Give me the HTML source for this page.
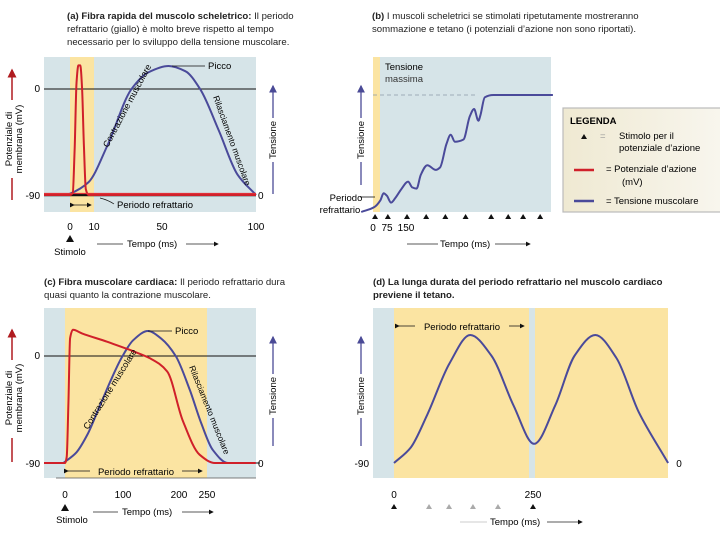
<!DOCTYPE html>
<html><head><meta charset="utf-8"><style>
html,body{margin:0;padding:0;background:#fff}
svg{display:block;font-family:"Liberation Sans",sans-serif}
</style></head><body>
<svg id="fig" width="720" height="540" viewBox="0 0 720 540">
<defs>
<marker id="ab" markerWidth="6" markerHeight="6" refX="5" refY="3" orient="auto"><path d="M0,0 L6,3 L0,6 z" fill="#111"/></marker>
<marker id="ar" markerWidth="6" markerHeight="6" refX="5" refY="3" orient="auto"><path d="M0,0 L6,3 L0,6 z" fill="#b01c20"/></marker>
<marker id="au" markerWidth="6" markerHeight="6" refX="5" refY="3" orient="auto"><path d="M0,0 L6,3 L0,6 z" fill="#4a4a96"/></marker>
<linearGradient id="lg" x1="0" x2="1"><stop offset="0" stop-color="#efe9d2"/><stop offset="1" stop-color="#f8f6ee"/></linearGradient>
</defs>

<g font-size="9.6" fill="#222">
<text x="67" y="19"><tspan font-weight="bold">(a) Fibra rapida del muscolo scheletrico:</tspan> Il periodo</text>
<text x="67" y="32">refrattario (giallo) è molto breve rispetto al tempo</text>
<text x="67" y="45">necessario per lo sviluppo della tensione muscolare.</text>
<text x="372" y="19"><tspan font-weight="bold">(b)</tspan> I muscoli scheletrici se stimolati ripetutamente mostreranno</text>
<text x="372" y="32">sommazione e tetano (i potenziali d’azione non sono riportati).</text>
<text x="44" y="285"><tspan font-weight="bold">(c) Fibra muscolare cardiaca:</tspan> Il periodo refrattario dura</text>
<text x="44" y="298">quasi quanto la contrazione muscolare.</text>
<text x="373" y="285" font-weight="bold">(d) La lunga durata del periodo refrattario nel muscolo cardiaco</text>
<text x="373" y="298" font-weight="bold">previene il tetano.</text>
</g>

<g>
<rect x="44" y="57" width="212" height="155" fill="#d6e4e8"/>
<rect x="70" y="57" width="24" height="155" fill="#fbe4a2"/>
<line x1="44" y1="89" x2="256" y2="89" stroke="#111" stroke-width="1"/>
<line x1="44" y1="195" x2="256" y2="195" stroke="#111" stroke-width="2.5"/>
<path id="blueA" fill="none" stroke="#4a4a9a" stroke-width="2"/>
<path id="redA" fill="none" stroke="#d0202a" stroke-width="2"/>
<line x1="44" y1="193.5" x2="256" y2="193.5" stroke="#e03038" stroke-width="1.2"/>
<text x="40" y="92" font-size="10" text-anchor="end">0</text>
<text x="40" y="199" font-size="10" text-anchor="end">-90</text>
<text x="258" y="199" font-size="10">0</text>
<text x="70" y="230" font-size="10" text-anchor="middle">0</text>
<text x="94" y="230" font-size="10" text-anchor="middle">10</text>
<text x="162" y="230" font-size="10" text-anchor="middle">50</text>
<text x="256" y="230" font-size="10" text-anchor="middle">100</text>
<path d="M66,242 L70,235 L74,242 z" fill="#111"/>
<text x="70" y="255" font-size="9.5" text-anchor="middle">Stimolo</text>
<line x1="97" y1="244" x2="123" y2="244" stroke="#222" stroke-width="0.8"/>
<text x="127" y="247" font-size="9.5">Tempo (ms)</text>
<line x1="186" y1="244" x2="218" y2="244" stroke="#222" stroke-width="0.8" marker-end="url(#ab)"/>
<line x1="172" y1="66" x2="205" y2="66" stroke="#111" stroke-width="0.8"/>
<text x="208" y="69" font-size="9.5">Picco</text>
<line x1="74" y1="205" x2="91" y2="205" stroke="#111" stroke-width="0.8" marker-end="url(#ab)" marker-start="url(#ab)"/>
<path d="M100,198 Q108,200 114,204" fill="none" stroke="#111" stroke-width="0.7"/>
<text x="117" y="208" font-size="9.5">Periodo refrattario</text>
<text transform="translate(108,148) rotate(-62)" font-size="9">Contrazione muscolare</text>
<text transform="translate(213,97) rotate(70)" font-size="8.5">Rilasciamento muscolare</text>
<line x1="12" y1="200" x2="12" y2="70" stroke="#b01c20" stroke-width="1.5" marker-end="url(#ar)"/>
<rect x="6" y="100" width="18" height="78" fill="#fff"/>
<text transform="translate(12,139) rotate(-90)" font-size="9.5" text-anchor="middle">Potenziale di</text>
<text transform="translate(22,139) rotate(-90)" font-size="9.5" text-anchor="middle">membrana (mV)</text>
<line x1="273" y1="194" x2="273" y2="86" stroke="#4a4a96" stroke-width="1.3" marker-end="url(#au)"/>
<rect x="267" y="118" width="12" height="44" fill="#fff"/>
<text transform="translate(276,140) rotate(-90)" font-size="9.5" text-anchor="middle">Tensione</text>
</g>

<g>
<rect x="373" y="57" width="178" height="155" fill="#d6e4e8"/>
<rect x="373" y="57" width="7" height="155" fill="#fbe4a2"/>
<line x1="373" y1="95" x2="476" y2="95" stroke="#8a99a8" stroke-width="0.8" stroke-dasharray="4,3"/>
<text x="385" y="70" font-size="9.5">Tensione</text>
<text x="385" y="82" font-size="9.5" fill="#333">massima</text>
<path id="blueB" fill="none" stroke="#4a4a9a" stroke-width="2"/>
<g id="stimB"></g>
<text x="373" y="231" font-size="10" text-anchor="middle">0</text>
<text x="387" y="231" font-size="10" text-anchor="middle">75</text>
<text x="406" y="231" font-size="10" text-anchor="middle">150</text>
<line x1="407" y1="244" x2="438" y2="244" stroke="#222" stroke-width="0.8"/>
<text x="440" y="247" font-size="9.5">Tempo (ms)</text>
<line x1="495" y1="244" x2="530" y2="244" stroke="#222" stroke-width="0.8" marker-end="url(#ab)"/>
<text x="346" y="201" font-size="9.5" text-anchor="middle">Periodo</text>
<text x="340" y="213" font-size="9.5" text-anchor="middle">refrattario</text>
<line x1="360" y1="197" x2="375" y2="197" stroke="#111" stroke-width="0.8"/>
<line x1="361" y1="185" x2="361" y2="86" stroke="#4a4a96" stroke-width="1.3" marker-end="url(#au)"/>
<rect x="355" y="118" width="12" height="44" fill="#fff"/>
<text transform="translate(364,140) rotate(-90)" font-size="9.5" text-anchor="middle">Tensione</text>
</g>

<g>
<rect x="563" y="108" width="160" height="104" fill="url(#lg)" stroke="#bbb" stroke-width="1.2"/>
<text x="570" y="124" font-size="9.5" font-weight="bold">LEGENDA</text>
<path d="M581,139 L584,134 L587,139 z" fill="#111"/>
<text x="600" y="139" font-size="9.5" fill="#999">=</text>
<text x="619" y="139" font-size="9.5">Stimolo per il</text>
<text x="619" y="151" font-size="9.5">potenziale d’azione</text>
<line x1="574" y1="170" x2="594" y2="170" stroke="#d0202a" stroke-width="2.5"/>
<text x="606" y="172" font-size="9.5">= Potenziale d’azione</text>
<text x="622" y="185" font-size="9.5">(mV)</text>
<line x1="574" y1="201" x2="594" y2="201" stroke="#4a4a9a" stroke-width="2.5"/>
<text x="606" y="204" font-size="9.5">= Tensione muscolare</text>
</g>

<g>
<rect x="44" y="308" width="212" height="170" fill="#d6e4e8"/>
<rect x="65" y="308" width="142" height="170" fill="#fbe4a2"/>
<line x1="44" y1="356" x2="256" y2="356" stroke="#111" stroke-width="1"/>
<line x1="56" y1="478" x2="256" y2="478" stroke="#555" stroke-width="0.8"/>
<path id="blueC" fill="none" stroke="#4a4a9a" stroke-width="2"/>
<path id="redC" fill="none" stroke="#d0202a" stroke-width="2"/>
<line x1="68" y1="471" x2="202" y2="471" stroke="#111" stroke-width="0.8" marker-end="url(#ab)" marker-start="url(#ab)"/>
<rect x="90" y="464" width="92" height="13" fill="#fbe4a2"/>
<text x="136" y="475" font-size="9.5" text-anchor="middle">Periodo refrattario</text>
<line x1="148" y1="331" x2="172" y2="331" stroke="#111" stroke-width="0.8"/>
<text x="175" y="334" font-size="9.5">Picco</text>
<text transform="translate(88,430) rotate(-58)" font-size="9">Contrazione muscolare</text>
<text transform="translate(189,367) rotate(68)" font-size="8.5">Rilasciamento muscolare</text>
<text x="40" y="359" font-size="10" text-anchor="end">0</text>
<text x="40" y="467" font-size="10" text-anchor="end">-90</text>
<text x="258" y="467" font-size="10">0</text>
<text x="65" y="498" font-size="10" text-anchor="middle">0</text>
<text x="123" y="498" font-size="10" text-anchor="middle">100</text>
<text x="179" y="498" font-size="10" text-anchor="middle">200</text>
<text x="207" y="498" font-size="10" text-anchor="middle">250</text>
<path d="M61,511 L65,504 L69,511 z" fill="#111"/>
<text x="72" y="523" font-size="9.5" text-anchor="middle">Stimolo</text>
<line x1="93" y1="512" x2="118" y2="512" stroke="#222" stroke-width="0.8"/>
<text x="122" y="515" font-size="9.5">Tempo (ms)</text>
<line x1="182" y1="512" x2="213" y2="512" stroke="#222" stroke-width="0.8" marker-end="url(#ab)"/>
<line x1="12" y1="462" x2="12" y2="330" stroke="#b01c20" stroke-width="1.5" marker-end="url(#ar)"/>
<rect x="6" y="360" width="18" height="78" fill="#fff"/>
<text transform="translate(12,398) rotate(-90)" font-size="9.5" text-anchor="middle">Potenziale di</text>
<text transform="translate(22,398) rotate(-90)" font-size="9.5" text-anchor="middle">membrana (mV)</text>
<line x1="273" y1="446" x2="273" y2="337" stroke="#4a4a96" stroke-width="1.3" marker-end="url(#au)"/>
<line x1="260" y1="463" x2="256" y2="463" stroke="#111"/>
<rect x="267" y="374" width="12" height="44" fill="#fff"/>
<text transform="translate(276,396) rotate(-90)" font-size="9.5" text-anchor="middle">Tensione</text>
</g>

<g>
<rect x="373" y="308" width="295" height="170" fill="#fbe4a2"/>
<rect x="373" y="308" width="21" height="170" fill="#d6e4e8"/>
<rect x="529" y="308" width="6" height="170" fill="#d6e4e8"/>
<line x1="399" y1="326" x2="524" y2="326" stroke="#111" stroke-width="0.8" marker-end="url(#ab)" marker-start="url(#ab)"/>
<rect x="415" y="319" width="94" height="13" fill="#fbe4a2"/>
<text x="462" y="330" font-size="9.5" text-anchor="middle">Periodo refrattario</text>
<path id="blueD" fill="none" stroke="#4a4a9a" stroke-width="2"/>
<g id="stimD"></g>
<text x="394" y="498" font-size="10" text-anchor="middle">0</text>
<text x="533" y="498" font-size="10" text-anchor="middle">250</text>
<text x="679" y="467" font-size="10" text-anchor="middle">0</text>
<text x="369" y="467" font-size="10" text-anchor="end">-90</text>
<line x1="460" y1="522" x2="487" y2="522" stroke="#bbb" stroke-width="0.8"/>
<text x="490" y="525" font-size="9.5">Tempo (ms)</text>
<line x1="547" y1="522" x2="582" y2="522" stroke="#222" stroke-width="0.8" marker-end="url(#ab)"/>
<line x1="361" y1="446" x2="361" y2="337" stroke="#4a4a96" stroke-width="1.3" marker-end="url(#au)"/>
<rect x="355" y="374" width="12" height="44" fill="#fff"/>
<text transform="translate(364,396) rotate(-90)" font-size="9.5" text-anchor="middle">Tensione</text>
</g>
</svg>
<script>
// Panel A data
const aRedTime=[-14,0,1.5,2.5,3.5,4.5,5.5,6.5,7.5,8.5,10,100];
const aRedMv=[-90,-90,-88,-50,5,20,20,0,-50,-85,-90,-90];
const aTenTime=[-2,0,10,20,33,42,53,62,70,80,90,100];
const aTension=[0,1,10,38,82,95,100,96,82,50,16,0];
// Panel B data
const bTenTime=[-60,0,30,45,60,80,100,130,160,180,200,220,250,290,310,340,360,380,420,450,470,490,500,520,560,840];
const bTension=[0,4,10,16,14,8,12,20,26,21,20,32,40,36,38,58,66,60,62,82,88,78,83,98,100,100];
const bStimTime=[5,65,155,245,335,430,550,630,700,780];
// Panel C data
const cRedTime=[-37,0,3,6,9,14,30,74,120,150,180,207,237,264,336];
const cRedMv=[-90,-90,-85,-40,15,22,19,12,4,-2,-13,-54,-83,-90,-90];
const cTenTime=[-3,20,40,60,80,100,120,146,170,195,220,240,260,287,336];
const cTension=[0,8,22,42,62,80,93,100,94,81,55,30,10,0,0];
// Panel D data
const dTenTime=[0,30,60,100,137,175,215,252,290,325,362,400,440,493];
const dTension=[0,12,38,78,100,84,45,15,45,84,100,82,40,0];
const dStimBlack=[0,250];
const dStimGray=[63,99,142,187];

function smooth(pts){
  const n=pts.length, dx=[], m=[], t=[];
  for(let i=0;i<n-1;i++){dx[i]=pts[i+1][0]-pts[i][0]; m[i]=(pts[i+1][1]-pts[i][1])/dx[i];}
  t[0]=m[0]; t[n-1]=m[n-2];
  for(let i=1;i<n-1;i++){
    if(m[i-1]*m[i]<=0) t[i]=0;
    else { const w1=2*dx[i]+dx[i-1], w2=dx[i]+2*dx[i-1]; t[i]=(w1+w2)/(w1/m[i-1]+w2/m[i]); }
  }
  let d='M'+pts[0][0].toFixed(1)+','+pts[0][1].toFixed(1);
  for(let i=0;i<n-1;i++){
    const h=dx[i]/3;
    d+=' C'+(pts[i][0]+h).toFixed(1)+','+(pts[i][1]+t[i]*h).toFixed(1)+' '+(pts[i+1][0]-h).toFixed(1)+','+(pts[i+1][1]-t[i+1]*h).toFixed(1)+' '+pts[i+1][0].toFixed(1)+','+pts[i+1][1].toFixed(1);
  }
  return d;
}
function build(ts,vs,fx,fy){return smooth(ts.map((t,i)=>[fx(t),fy(vs[i])]));}
const axA=t=>70+1.86*t, ayAmv=v=>89-v*(106/90), ayAt=v=>195-v*1.29;
const axB=t=>374+0.213*t, ayB=v=>212-v*1.17;
const axC=t=>65+0.568*t, ayCmv=v=>356-v*(107/90), ayCt=v=>463-v*1.32;
const axD=t=>394+0.556*t, ayD=v=>463-v*1.28;

document.getElementById('redA').setAttribute('d',build(aRedTime,aRedMv,axA,ayAmv));
document.getElementById('blueA').setAttribute('d',build(aTenTime,aTension,axA,ayAt));
document.getElementById('blueB').setAttribute('d',build(bTenTime,bTension,axB,ayB));
document.getElementById('redC').setAttribute('d',build(cRedTime,cRedMv,axC,ayCmv));
document.getElementById('blueC').setAttribute('d',build(cTenTime,cTension,axC,ayCt));
document.getElementById('blueD').setAttribute('d',build(dTenTime,dTension,axD,ayD));

const NS='http://www.w3.org/2000/svg';
function tri(g,x,y,col){
  const p=document.createElementNS(NS,'path');
  p.setAttribute('d',`M${x-3},${y+5} L${x},${y} L${x+3},${y+5} z`);
  p.setAttribute('fill',col);
  
  
  g.appendChild(p);
}
const gB=document.getElementById('stimB');
bStimTime.forEach(t=>tri(gB,axB(t),214,'#111'));
const gD=document.getElementById('stimD');
dStimBlack.forEach(t=>tri(gD,axD(t),504,'#111'));
dStimGray.forEach(t=>tri(gD,axD(t),504,'#aaa'));
</script>
</body></html>
